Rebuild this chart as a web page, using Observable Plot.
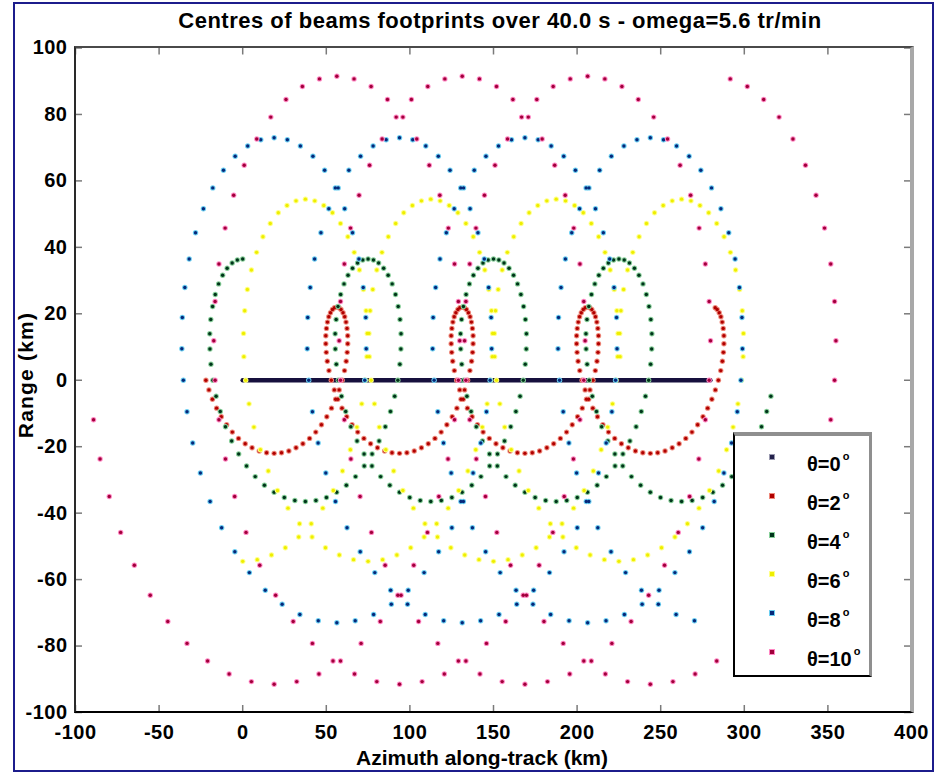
<!DOCTYPE html>
<html><head><meta charset="utf-8">
<script src="https://cdn.jsdelivr.net/npm/d3@7"></script>
<script src="https://cdn.jsdelivr.net/npm/@observablehq/plot@0.6"></script>
<style>
html,body{margin:0;padding:0;background:#fff;}
#wrap{position:relative;width:936px;height:773px;overflow:hidden;font-family:"Liberation Sans",Arial,sans-serif;font-weight:bold;color:#000;background:#fff;}
#wrap svg{position:absolute;left:0;top:0;}
.outer{position:absolute;left:13px;top:2px;width:921px;height:770px;border:2px solid #1c1c8c;box-sizing:border-box;pointer-events:none;}
.frame{position:absolute;left:74px;top:46px;width:840px;height:667px;box-sizing:border-box;border-left:2px solid #2a2a2a;border-top:2px solid #4a4a4a;border-bottom:2px solid #000;border-right:4px solid #a8a8a8;pointer-events:none;}
.title{position:absolute;left:100px;width:800px;top:10px;text-align:center;font-size:22px;line-height:22px;letter-spacing:0.5px;white-space:nowrap;}
.xlabel{position:absolute;left:182px;width:600px;top:747px;text-align:center;font-size:21px;line-height:21px;white-space:nowrap;}
.ylabel{position:absolute;left:-74px;width:200px;top:363px;height:24px;line-height:24px;text-align:center;font-size:21px;letter-spacing:1.2px;white-space:nowrap;transform:rotate(-90deg);}
.legend{position:absolute;left:733px;top:432px;width:139px;height:245px;background:#fff;box-sizing:border-box;border-left:2px solid #000;border-bottom:2px solid #000;border-top:4px solid #8f8f8f;border-right:3px solid #8f8f8f;}
.legend .mk{position:absolute;width:4px;height:4px;}
.legend .tx{position:absolute;font-size:20px;line-height:20px;white-space:nowrap;}
.legend .tx sup{font-size:11px;position:relative;top:-3px;margin-left:2px;}
</style></head>
<body><div id="wrap"></div>
<script>
// ---- tick labels ----
const xTicks = [-100, -50, 0, 50, 100, 150, 200, 250, 300, 350, 400];
const yTicks = [-100, -80, -60, -40, -20, 0, 20, 40, 60, 80, 100];

// ---- series (km) ----
const theta0X = [0, 279.7];
const theta0Y = [0, 0];

const theta2X = [
-22.0,-20.2,-18.1,-15.6,-12.8,-9.6,-6.2,-2.5,1.5,5.6,9.9,14.3,18.8,23.2,27.6,31.9,36.0,40.0,43.7,47.1,50.3,53.1,55.6,57.7,59.5,60.9,61.9,62.5,62.8,62.8,62.4,61.8,61.0,60.0,58.8,57.6,56.3,54.9,53.7,52.5,51.5,50.7,50.1,49.7,49.7,50.0,50.6,51.6,
53.0,54.8,56.9,59.4,62.2,65.4,68.8,72.5,76.5,80.6,84.9,89.3,93.8,98.2,102.6,106.9,111.0,115.0,118.7,122.1,125.3,128.1,130.6,132.7,134.5,135.9,136.9,137.5,137.8,137.8,137.4,136.8,136.0,135.0,133.8,132.6,131.3,129.9,128.7,127.5,126.5,125.7,125.1,124.7,124.7,125.0,125.6,126.6,
128.0,129.8,131.9,134.4,137.2,140.4,143.8,147.5,151.5,155.6,159.9,164.3,168.8,173.2,177.6,181.9,186.0,190.0,193.7,197.1,200.3,203.1,205.6,207.7,209.5,210.9,211.9,212.5,212.8,212.8,212.4,211.8,211.0,210.0,208.8,207.6,206.3,204.9,203.7,202.5,201.5,200.7,200.1,199.7,199.7,200.0,200.6,201.6,
203.0,204.8,206.9,209.4,212.2,215.4,218.8,222.5,226.5,230.6,234.9,239.3,243.8,248.2,252.6,256.9,261.0,265.0,268.7,272.1,275.3,278.1,280.6,282.7,284.5,285.9,286.9,287.5,287.8,287.8,287.4,286.8,286.0,285.0,283.8,282.6];
const theta2Y = [
0,-2.9,-5.7,-8.4,-11.0,-13.4,-15.6,-17.5,-19.1,-20.3,-21.3,-21.8,-22.0,-21.8,-21.3,-20.3,-19.1,-17.5,-15.6,-13.4,-11.0,-8.4,-5.7,-2.9,0,2.9,5.7,8.4,11.0,13.4,15.6,17.5,19.1,20.3,21.3,21.8,22.0,21.8,21.3,20.3,19.1,17.5,15.6,13.4,11.0,8.4,5.7,2.9,
0,-2.9,-5.7,-8.4,-11.0,-13.4,-15.6,-17.5,-19.1,-20.3,-21.3,-21.8,-22.0,-21.8,-21.3,-20.3,-19.1,-17.5,-15.6,-13.4,-11.0,-8.4,-5.7,-2.9,0,2.9,5.7,8.4,11.0,13.4,15.6,17.5,19.1,20.3,21.3,21.8,22.0,21.8,21.3,20.3,19.1,17.5,15.6,13.4,11.0,8.4,5.7,2.9,
0,-2.9,-5.7,-8.4,-11.0,-13.4,-15.6,-17.5,-19.1,-20.3,-21.3,-21.8,-22.0,-21.8,-21.3,-20.3,-19.1,-17.5,-15.6,-13.4,-11.0,-8.4,-5.7,-2.9,0,2.9,5.7,8.4,11.0,13.4,15.6,17.5,19.1,20.3,21.3,21.8,22.0,21.8,21.3,20.3,19.1,17.5,15.6,13.4,11.0,8.4,5.7,2.9,
0,-2.9,-5.7,-8.4,-11.0,-13.4,-15.6,-17.5,-19.1,-20.3,-21.3,-21.8,-22.0,-21.8,-21.3,-20.3,-19.1,-17.5,-15.6,-13.4,-11.0,-8.4,-5.7,-2.9,0,2.9,5.7,8.4,11.0,13.4,15.6,17.5,19.1,20.3,21.3,21.8];

const theta4X = [
0.0,-3.2,-6.3,-9.3,-12.0,-14.4,-16.4,-18.0,-19.1,-19.7,-19.6,-19.0,-17.8,-15.9,-13.4,-10.3,-6.6,-2.4,2.3,7.5,13.0,18.8,24.9,31.2,37.5,43.8,50.1,56.2,62.0,67.5,72.7,77.4,81.6,85.3,88.4,90.9,92.8,94.0,94.6,94.7,94.1,93.0,91.4,89.4,87.0,84.3,81.3,78.2,
75.0,71.8,68.7,65.7,63.0,60.6,58.6,57.0,55.9,55.3,55.4,56.0,57.2,59.1,61.6,64.7,68.4,72.6,77.3,82.5,88.0,93.8,99.9,106.2,112.5,118.8,125.1,131.2,137.0,142.5,147.7,152.4,156.6,160.3,163.4,165.9,167.8,169.0,169.6,169.7,169.1,168.0,166.4,164.4,162.0,159.3,156.3,153.2,
150.0,146.8,143.7,140.7,138.0,135.6,133.6,132.0,130.9,130.3,130.4,131.0,132.2,134.1,136.6,139.7,143.4,147.6,152.3,157.5,163.0,168.8,174.9,181.2,187.5,193.8,200.1,206.2,212.0,217.5,222.7,227.4,231.6,235.3,238.4,240.9,242.8,244.0,244.6,244.7,244.1,243.0,241.4,239.4,237.0,234.3,231.3,228.2,
225.0,221.8,218.7,215.7,213.0,210.6,208.6,207.0,205.9,205.3,205.4,206.0,207.2,209.1,211.6,214.7,218.4,222.6,227.3,232.5,238.0,243.8,249.9,256.2,262.5,268.8,275.1,281.2,287.0,292.5,297.7,302.4,306.6,310.3,313.4,315.9];
const theta4Y = [
36.5,36.2,35.3,33.7,31.6,29.0,25.8,22.2,18.3,14.0,9.4,4.8,0,-4.8,-9.4,-14.0,-18.3,-22.2,-25.8,-29.0,-31.6,-33.7,-35.3,-36.2,-36.5,-36.2,-35.3,-33.7,-31.6,-29.0,-25.8,-22.2,-18.3,-14.0,-9.4,-4.8,0,4.8,9.4,14.0,18.3,22.2,25.8,29.0,31.6,33.7,35.3,36.2,
36.5,36.2,35.3,33.7,31.6,29.0,25.8,22.2,18.3,14.0,9.4,4.8,0,-4.8,-9.4,-14.0,-18.3,-22.2,-25.8,-29.0,-31.6,-33.7,-35.3,-36.2,-36.5,-36.2,-35.3,-33.7,-31.6,-29.0,-25.8,-22.2,-18.3,-14.0,-9.4,-4.8,0,4.8,9.4,14.0,18.3,22.2,25.8,29.0,31.6,33.7,35.3,36.2,
36.5,36.2,35.3,33.7,31.6,29.0,25.8,22.2,18.3,14.0,9.4,4.8,0,-4.8,-9.4,-14.0,-18.3,-22.2,-25.8,-29.0,-31.6,-33.7,-35.3,-36.2,-36.5,-36.2,-35.3,-33.7,-31.6,-29.0,-25.8,-22.2,-18.3,-14.0,-9.4,-4.8,0,4.8,9.4,14.0,18.3,22.2,25.8,29.0,31.6,33.7,35.3,36.2,
36.5,36.2,35.3,33.7,31.6,29.0,25.8,22.2,18.3,14.0,9.4,4.8,0,-4.8,-9.4,-14.0,-18.3,-22.2,-25.8,-29.0,-31.6,-33.7,-35.3,-36.2,-36.5,-36.2,-35.3,-33.7,-31.6,-29.0,-25.8,-22.2,-18.3,-14.0,-9.4,-4.8];

const theta6X = [
0.0,8.7,17.2,25.5,33.5,41.0,47.9,54.2,59.7,64.4,68.3,71.2,73.3,74.3,74.5,73.8,72.2,69.8,66.7,62.9,58.5,53.7,48.5,43.1,37.5,31.9,26.5,21.3,16.5,12.1,8.3,5.2,2.8,1.2,0.5,0.7,1.8,3.8,6.7,10.6,15.3,20.8,27.1,34.0,41.5,49.5,57.8,66.3,
75.0,83.7,92.2,100.5,108.5,116.0,122.9,129.2,134.7,139.4,143.3,146.2,148.3,149.3,149.5,148.8,147.2,144.8,141.7,137.9,133.5,128.7,123.5,118.1,112.5,106.9,101.5,96.3,91.5,87.1,83.3,80.2,77.8,76.2,75.5,75.7,76.8,78.8,81.7,85.6,90.3,95.8,102.1,109.0,116.5,124.5,132.8,141.3,
150.0,158.7,167.2,175.5,183.5,191.0,197.9,204.2,209.7,214.4,218.3,221.2,223.3,224.3,224.5,223.8,222.2,219.8,216.7,212.9,208.5,203.7,198.5,193.1,187.5,181.9,176.5,171.3,166.5,162.1,158.3,155.2,152.8,151.2,150.5,150.7,151.8,153.8,156.7,160.6,165.3,170.8,177.1,184.0,191.5,199.5,207.8,216.3,
225.0,233.7,242.2,250.5,258.5,266.0,272.9,279.2,284.7,289.4,293.3,296.2,298.3,299.3,299.5,298.8,297.2,294.8,291.7,287.9,283.5,278.7,273.5,268.1,262.5,256.9,251.5,246.3,241.5,237.1,233.3,230.2,227.8,226.2,225.5,225.7];
const theta6Y = [
-54.5,-54.0,-52.6,-50.4,-47.2,-43.2,-38.5,-33.2,-27.3,-20.9,-14.1,-7.1,0,7.1,14.1,20.9,27.3,33.2,38.5,43.2,47.2,50.4,52.6,54.0,54.5,54.0,52.6,50.4,47.2,43.2,38.5,33.2,27.3,20.9,14.1,7.1,0,-7.1,-14.1,-20.9,-27.3,-33.2,-38.5,-43.2,-47.2,-50.4,-52.6,-54.0,
-54.5,-54.0,-52.6,-50.4,-47.2,-43.2,-38.5,-33.2,-27.3,-20.9,-14.1,-7.1,0,7.1,14.1,20.9,27.3,33.2,38.5,43.2,47.2,50.4,52.6,54.0,54.5,54.0,52.6,50.4,47.2,43.2,38.5,33.2,27.3,20.9,14.1,7.1,0,-7.1,-14.1,-20.9,-27.3,-33.2,-38.5,-43.2,-47.2,-50.4,-52.6,-54.0,
-54.5,-54.0,-52.6,-50.4,-47.2,-43.2,-38.5,-33.2,-27.3,-20.9,-14.1,-7.1,0,7.1,14.1,20.9,27.3,33.2,38.5,43.2,47.2,50.4,52.6,54.0,54.5,54.0,52.6,50.4,47.2,43.2,38.5,33.2,27.3,20.9,14.1,7.1,0,-7.1,-14.1,-20.9,-27.3,-33.2,-38.5,-43.2,-47.2,-50.4,-52.6,-54.0,
-54.5,-54.0,-52.6,-50.4,-47.2,-43.2,-38.5,-33.2,-27.3,-20.9,-14.1,-7.1,0,7.1,14.1,20.9,27.3,33.2,38.5,43.2,47.2,50.4,52.6,54.0,54.5,54.0,52.6,50.4,47.2,43.2,38.5,33.2,27.3,20.9,14.1,7.1];

const theta8X = [
73.0,73.9,73.6,72.1,69.5,65.7,61.0,55.4,49.0,42.0,34.5,26.7,18.8,10.8,3.0,-4.5,-11.5,-17.9,-23.5,-28.2,-32.0,-34.6,-36.1,-36.4,-35.5,-33.3,-29.9,-25.3,-19.5,-12.6,-4.7,4.0,13.5,23.6,34.2,45.2,56.3,67.3,78.3,88.9,99.0,108.5,117.2,125.1,132.0,137.8,142.4,145.8,
148.0,148.9,148.6,147.1,144.5,140.7,136.0,130.4,124.0,117.0,109.5,101.7,93.8,85.8,78.0,70.5,63.5,57.1,51.5,46.8,43.0,40.4,38.9,38.6,39.5,41.7,45.1,49.7,55.5,62.4,70.3,79.0,88.5,98.6,109.2,120.2,131.3,142.3,153.3,163.9,174.0,183.5,192.2,200.1,207.0,212.8,217.4,220.8,
223.0,223.9,223.6,222.1,219.5,215.7,211.0,205.4,199.0,192.0,184.5,176.7,168.8,160.8,153.0,145.5,138.5,132.1,126.5,121.8,118.0,115.4,113.9,113.6,114.5,116.7,120.1,124.7,130.5,137.4,145.3,154.0,163.5,173.6,184.2,195.2,206.3,217.3,228.3,238.9,249.0,258.5,267.2,275.1,282.0,287.8,292.4,295.8,
298.0,298.9,298.6,297.1,294.5,290.7,286.0,280.4,274.0,267.0,259.5,251.7,243.8,235.8,228.0,220.5,213.5,207.1,201.5,196.8,193.0,190.4,188.9,188.6,189.5,191.7,195.1,199.7,205.5,212.4,220.3,229.0,238.5,248.6,259.2,270.2];
const theta8Y = [
0,9.5,18.9,27.9,36.5,44.4,51.6,57.9,63.2,67.4,70.5,72.4,73.0,72.4,70.5,67.4,63.2,57.9,51.6,44.4,36.5,27.9,18.9,9.5,0,-9.5,-18.9,-27.9,-36.5,-44.4,-51.6,-57.9,-63.2,-67.4,-70.5,-72.4,-73.0,-72.4,-70.5,-67.4,-63.2,-57.9,-51.6,-44.4,-36.5,-27.9,-18.9,-9.5,
0,9.5,18.9,27.9,36.5,44.4,51.6,57.9,63.2,67.4,70.5,72.4,73.0,72.4,70.5,67.4,63.2,57.9,51.6,44.4,36.5,27.9,18.9,9.5,0,-9.5,-18.9,-27.9,-36.5,-44.4,-51.6,-57.9,-63.2,-67.4,-70.5,-72.4,-73.0,-72.4,-70.5,-67.4,-63.2,-57.9,-51.6,-44.4,-36.5,-27.9,-18.9,-9.5,
0,9.5,18.9,27.9,36.5,44.4,51.6,57.9,63.2,67.4,70.5,72.4,73.0,72.4,70.5,67.4,63.2,57.9,51.6,44.4,36.5,27.9,18.9,9.5,0,-9.5,-18.9,-27.9,-36.5,-44.4,-51.6,-57.9,-63.2,-67.4,-70.5,-72.4,-73.0,-72.4,-70.5,-67.4,-63.2,-57.9,-51.6,-44.4,-36.5,-27.9,-18.9,-9.5,
0,9.5,18.9,27.9,36.5,44.4,51.6,57.9,63.2,67.4,70.5,72.4,73.0,72.4,70.5,67.4,63.2,57.9,51.6,44.4,36.5,27.9,18.9,9.5,0,-9.5,-18.9,-27.9,-36.5,-44.4,-51.6,-57.9,-63.2,-67.4,-70.5,-72.4];

const theta10X = [
-89.2,-85.3,-79.8,-73.0,-64.8,-55.3,-44.8,-33.3,-21.0,-8.1,5.2,18.8,32.3,45.6,58.5,70.8,82.3,92.8,102.3,110.5,117.3,122.8,126.7,129.0,129.8,129.0,126.7,123.0,117.9,111.6,104.1,95.8,86.6,76.8,66.6,56.3,45.9,35.7,25.9,16.8,8.4,0.9,-5.4,-10.5,-14.2,-16.5,-17.3,
-16.5,-14.2,-10.3,-4.8,2.0,10.2,19.7,30.2,41.7,54.0,66.9,80.2,93.8,107.3,120.6,133.5,145.8,157.3,167.8,177.3,185.5,192.3,197.8,201.7,204.0,204.8,204.0,201.7,198.0,192.9,186.6,179.1,170.8,161.6,151.8,141.6,131.3,120.9,110.7,100.9,91.8,83.4,75.9,69.6,64.5,60.8,58.5,57.7,
58.5,60.8,64.7,70.2,77.0,85.2,94.7,105.2,116.7,129.0,141.9,155.2,168.8,182.3,195.6,208.5,220.8,232.3,242.8,252.3,260.5,267.3,272.8,276.7,279.0,279.8,279.0,276.7,273.0,267.9,261.6,254.1,245.8,236.6,226.8,216.6,206.3,195.9,185.7,175.9,166.8,158.4,150.9,144.6,139.5,135.8,133.5,132.7,
133.5,135.8,139.7,145.2,152.0,160.2,169.7,180.2,191.7,204.0,216.9,230.2,243.8,257.3,270.6,283.5,295.8,307.3,317.8,327.3,335.5,342.3,347.8,351.7,354.0,354.8,354.0,351.7,348.0,342.9,336.6,329.1,320.8,311.6,301.8,291.6];
const theta10Y = [
-11.9,-23.7,-35.0,-45.8,-55.7,-64.7,-72.6,-79.2,-84.5,-88.4,-90.7,-91.5,-90.7,-88.4,-84.5,-79.2,-72.6,-64.7,-55.7,-45.8,-35.0,-23.7,-11.9,0,11.9,23.7,35.0,45.8,55.7,64.7,72.6,79.2,84.5,88.4,90.7,91.5,90.7,88.4,84.5,79.2,72.6,64.7,55.7,45.8,35.0,23.7,11.9,
0,-11.9,-23.7,-35.0,-45.8,-55.7,-64.7,-72.6,-79.2,-84.5,-88.4,-90.7,-91.5,-90.7,-88.4,-84.5,-79.2,-72.6,-64.7,-55.7,-45.8,-35.0,-23.7,-11.9,0,11.9,23.7,35.0,45.8,55.7,64.7,72.6,79.2,84.5,88.4,90.7,91.5,90.7,88.4,84.5,79.2,72.6,64.7,55.7,45.8,35.0,23.7,11.9,
0,-11.9,-23.7,-35.0,-45.8,-55.7,-64.7,-72.6,-79.2,-84.5,-88.4,-90.7,-91.5,-90.7,-88.4,-84.5,-79.2,-72.6,-64.7,-55.7,-45.8,-35.0,-23.7,-11.9,0,11.9,23.7,35.0,45.8,55.7,64.7,72.6,79.2,84.5,88.4,90.7,91.5,90.7,88.4,84.5,79.2,72.6,64.7,55.7,45.8,35.0,23.7,11.9,
0,-11.9,-23.7,-35.0,-45.8,-55.7,-64.7,-72.6,-79.2,-84.5,-88.4,-90.7,-91.5,-90.7,-88.4,-84.5,-79.2,-72.6,-64.7,-55.7,-45.8,-35.0,-23.7,-11.9,0,11.9,23.7,35.0,45.8,55.7,64.7,72.6,79.2,84.5,88.4,90.7];

const legendLabels = ["θ=0", "θ=2", "θ=4", "θ=6", "θ=8", "θ=10"];

// ---- build ----
function rows(xs, ys) {
  const n = Math.min(xs.length, ys.length);
  const out = [];
  for (let i = 0; i < n; i++) out.push({x: xs[i], y: ys[i]});
  return out;
}
const dotSeries = [
  {rows: rows(theta2X, theta2Y), halo: "#ee8a7c", core: "#b00000"},
  {rows: rows(theta4X, theta4Y), halo: "#88cf9a", core: "#00341a"},
  {rows: rows(theta6X, theta6Y), halo: "#ffff88", core: "#eeee00"},
  {rows: rows(theta8X, theta8Y), halo: "#6ccff2", core: "#05287a"},
  {rows: rows(theta10X, theta10Y), halo: "#ff88c4", core: "#a0003a"}
];
const legendColors = [["#9a9ab0","#23204a"],["#ee8a7c","#b00000"],["#88cf9a","#00341a"],["#ffff88","#eeee00"],["#6ccff2","#05287a"],["#ff88c4","#a0003a"]];

const W = 936, H = 773, mL = 75, mR = 25, mT = 47.5, mB = 61;
const frameH = H - mT - mB, frameW = W - mL - mR;

const marks = [
  Plot.tickX(xTicks, {x: d => d, insetTop: frameH - 7, stroke: "#7a7a7a", strokeWidth: 1.5}),
  Plot.tickX(xTicks, {x: d => d, insetBottom: frameH - 7, stroke: "#7a7a7a", strokeWidth: 1.5}),
  Plot.tickY(yTicks, {y: d => d, insetRight: frameW - 7, stroke: "#7a7a7a", strokeWidth: 1.5}),
  Plot.tickY(yTicks, {y: d => d, insetLeft: frameW - 7, stroke: "#7a7a7a", strokeWidth: 1.5}),
  Plot.line(rows(theta0X, theta0Y), {x: "x", y: "y", stroke: "#16103e", strokeWidth: 4.5})
];
for (const s of dotSeries) {
  marks.push(Plot.dot(s.rows, {x: "x", y: "y", r: 2.7, fill: s.halo, stroke: "none"}));
  marks.push(Plot.dot(s.rows, {x: "x", y: "y", r: 1.7, fill: s.core, stroke: "none"}));
}

const chart = Plot.plot({
  width: W, height: H,
  marginLeft: mL, marginRight: mR, marginTop: mT, marginBottom: mB,
  x: {domain: [-100, 400], ticks: xTicks, tickSize: 0, tickPadding: 12, tickFormat: d => String(d), label: null},
  y: {domain: [-100, 100], ticks: yTicks, tickSize: 0, tickPadding: 8, tickFormat: d => String(d), label: null},
  style: {fontFamily: "'Liberation Sans', Arial, sans-serif", fontSize: "20px", fontWeight: "bold", background: "transparent", color: "#000", letterSpacing: "0.5px"},
  marks
});

const wrap = document.getElementById("wrap");
wrap.appendChild(chart);

function addDiv(cls, html) { const d = document.createElement("div"); d.className = cls; d.innerHTML = html; wrap.appendChild(d); return d; }
addDiv("frame", "");
addDiv("title", "Centres of beams footprints over 40.0 s - omega=5.6 tr/min");
addDiv("xlabel", "Azimuth along-track (km)");
addDiv("ylabel", "Range (km)");
const leg = addDiv("legend", "");
legendLabels.forEach((lab, i) => {
  const mk = document.createElement("div");
  mk.className = "mk";
  mk.style.left = (772 - 733 - 2 - 2) + "px";
  mk.style.top = (457 - 436 - 2 + i * 39) + "px";
  mk.style.background = legendColors[i][1];
  mk.style.boxShadow = "0 0 0 1px " + legendColors[i][0];
  leg.appendChild(mk);
  const tx = document.createElement("div");
  tx.className = "tx";
  tx.style.left = (807 - 733 - 2) + "px";
  tx.style.top = (452 - 436 - 3 + i * 39) + "px";
  tx.innerHTML = lab + "<sup>o</sup>";
  leg.appendChild(tx);
});
addDiv("outer", "");
</script>
</body></html>
